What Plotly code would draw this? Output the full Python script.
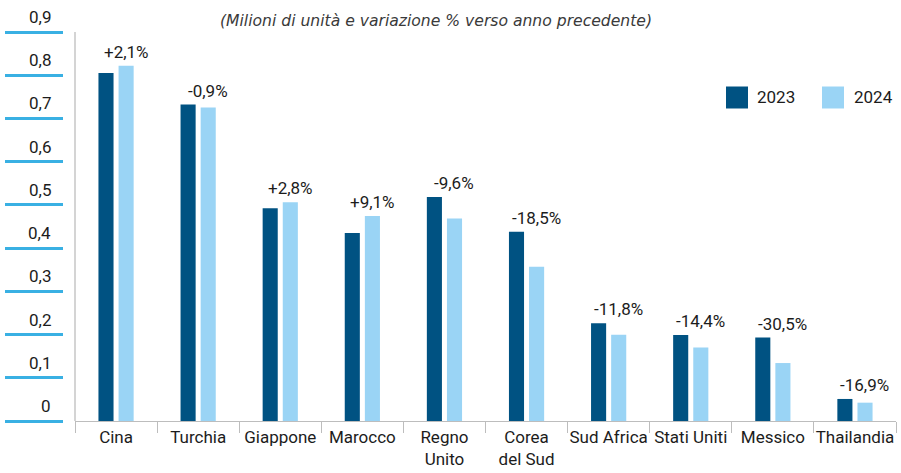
import plotly.graph_objects as go

# Production volumes (millions of units) by country
countries = ["Cina", "Turchia", "Giappone", "Marocco", "Regno<br>Unito",
             "Corea<br>del Sud", "Sud Africa", "Stati Uniti", "Messico", "Thailandia"]
years = ["2023", "2024"]
values_2023 = [0.805, 0.7320, 0.492, 0.435, 0.518, 0.438, 0.226, 0.199, 0.193, 0.051]
values_2024 = [0.822, 0.7254, 0.506, 0.4745, 0.4683, 0.357, 0.1993, 0.1703, 0.1341, 0.0424]
y_ticks = [0, 0.1, 0.2, 0.3, 0.4, 0.5, 0.6, 0.7, 0.8, 0.9]

DARK = "#005282"
LIGHT = "#9AD4F5"
TICK_BLUE = "#39B0E3"
GRAY = "#BDBDBD"
TEXT = "#1C1C1C"
FONT = "Roboto, sans-serif"
FS = 17

W, H = 901, 473
ML, MR, MT, MB = 0, 5, 32, 52
PW = W - ML - MR
PH = H - MT - MB
PLOT_LEFT = 75


def px_x(px):
    return (px - ML) / PW


def px_y(py):
    return 1 - (py - MT) / PH


def it_num(v, decimals=1):
    return f"{v:.{decimals}f}".replace(".", ",")


fig = go.Figure()
fig.add_trace(go.Bar(x=countries, y=values_2023, name=years[0],
                     marker=dict(color=DARK, line=dict(width=0)), showlegend=False))
fig.add_trace(go.Bar(x=countries, y=values_2024, name=years[1],
                     marker=dict(color=LIGHT, line=dict(width=0)), showlegend=False))

annotations = []
# Percentage change above each pair
for c, a, b in zip(countries, values_2023, values_2024):
    pct = (b / a - 1) * 100
    sign = "+" if pct >= 0 else "-"
    annotations.append(dict(
        x=c, y=max(a, b), xref="x", yref="y", text=f"{sign}{it_num(abs(pct))}%",
        showarrow=False, xanchor="center", yanchor="bottom", xshift=10, yshift=2,
        font=dict(family=FONT, size=FS, color=TEXT)))

# Y tick labels sitting above the blue tick bars
for v in y_ticks:
    annotations.append(dict(
        x=px_x(53), y=v, xref="paper", yref="y",
        text="0" if v == 0 else it_num(v), showarrow=False,
        xanchor="right", yanchor="bottom", yshift=3,
        font=dict(family=FONT, size=FS, color=TEXT)))

# Subtitle
annotations.append(dict(
    x=px_x(436), y=px_y(21), xref="paper", yref="paper",
    text="(Milioni di unità e variazione % verso anno precedente)",
    showarrow=False, xanchor="center", yanchor="middle",
    font=dict(family="DejaVu Sans", size=15.6, color="#3A3A3A", style="italic")))

# Legend
shapes = []
legend_items = [(years[0], DARK, 737, 755), (years[1], LIGHT, 833, 852)]
for name, col, cx, tx in legend_items:
    shapes.append(dict(type="rect", xref="paper", yref="paper",
                       x0=px_x(cx - 11), x1=px_x(cx + 11),
                       y0=px_y(108.5), y1=px_y(86.5),
                       fillcolor=col, line=dict(width=0)))
    annotations.append(dict(
        x=px_x(tx), y=px_y(97.5), xref="paper", yref="paper", text=name,
        showarrow=False, xanchor="left", yanchor="middle",
        font=dict(family=FONT, size=FS, color=TEXT)))

# Gray vertical axis line at the plot's left edge
shapes.append(dict(type="line", xref="paper", yref="y",
                   x0=px_x(PLOT_LEFT), x1=px_x(PLOT_LEFT), y0=0, y1=y_ticks[-1],
                   line=dict(color=GRAY, width=1.3)))

fig.update_layout(
    width=W, height=H,
    margin=dict(l=ML, r=MR, t=MT, b=MB, autoexpand=False),
    paper_bgcolor="white", plot_bgcolor="white",
    barmode="group", bargap=0.51, bargroupgap=0.25,
    annotations=annotations, shapes=shapes,
    xaxis=dict(domain=[px_x(PLOT_LEFT), 1], showgrid=False, zeroline=False,
               showline=True, linecolor=GRAY, linewidth=1.3,
               ticks="outside", tickson="boundaries", ticklen=11,
               tickcolor=GRAY, tickwidth=1.3, tickangle=0, automargin=False,
               tickfont=dict(family=FONT, size=FS, color=TEXT)),
    yaxis=dict(range=[0, y_ticks[-1]], anchor="free", position=px_x(63),
               showgrid=False, zeroline=False, showline=False, automargin=False,
               tickmode="array", tickvals=y_ticks, showticklabels=False,
               ticks="outside", ticklen=58, tickwidth=3, tickcolor=TICK_BLUE),
)

fig.write_html("out.html")
